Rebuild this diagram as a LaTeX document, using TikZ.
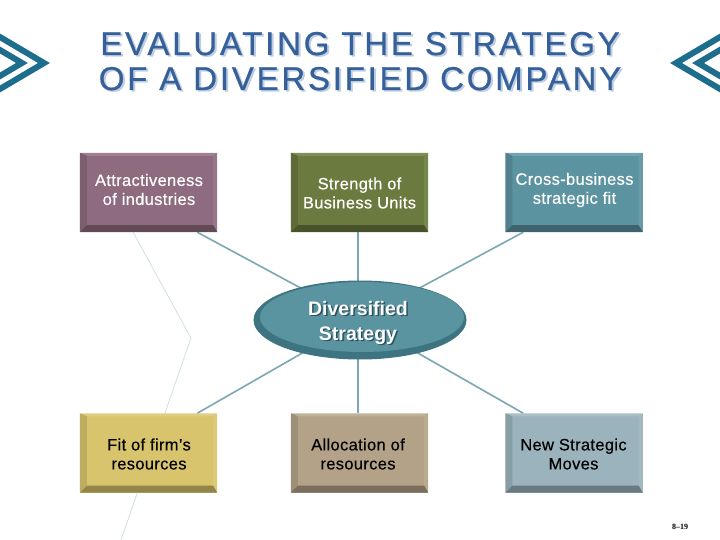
\documentclass[tikz,border=0pt]{standalone}
\usepackage{fontspec}
\setmainfont{Liberation Sans}
\newfontfamily\serifpn{Liberation Serif}
\usetikzlibrary{shapes.geometric,backgrounds,calc}
\definecolor{titleC}{HTML}{35609A}
\definecolor{titleSh}{HTML}{BFCDE0}
\definecolor{chevC}{HTML}{1D6E8D}
\definecolor{cA}{HTML}{8E6B7F}
\definecolor{cB}{HTML}{6B7A3F}
\definecolor{cC}{HTML}{5C93A0}
\definecolor{cD}{HTML}{D8C46C}
\definecolor{cE}{HTML}{B3A287}
\definecolor{cF}{HTML}{9BB3BC}
\definecolor{ellRim}{HTML}{3E7482}
\definecolor{ellFace}{HTML}{5A94A1}
\definecolor{connC}{HTML}{7CA7B3}
\definecolor{faintC}{HTML}{CFE0E6}
\newcommand{\bvl}[2]{%
  \fill[#2!85!white] (#1.north west) -- (#1.north east) -- ([shift={(-4,3)}]#1.north east) -- ([shift={(7,3)}]#1.north west) -- cycle;
  \fill[#2!88!black] (#1.south west) -- (#1.north west) -- ([shift={(7,3)}]#1.north west) -- ([shift={(7,-7)}]#1.south west) -- cycle;
  \fill[#2!92!white] (#1.north east) -- (#1.south east) -- ([shift={(-4,-7)}]#1.south east) -- ([shift={(-4,3)}]#1.north east) -- cycle;
  \fill[#2!68!black] (#1.south west) -- (#1.south east) -- ([shift={(-4,-7)}]#1.south east) -- ([shift={(7,-7)}]#1.south west) -- cycle;
}
\begin{document}
\begin{tikzpicture}[x=1pt,y=-1pt,
  titletxt/.style={anchor=base, inner sep=0, font=\fontsize{33}{36}\selectfont\addfontfeatures{LetterSpace=8.4,FakeBold=0.6}},
  boxnode/.style={draw=none, inner sep=0, minimum width=137pt, minimum height=79pt},
  btxt/.style={align=center, inner sep=0, font=\fontsize{16.5}{19}\selectfont\addfontfeatures{LetterSpace=2,FakeBold=0.35}},
  conn/.style={draw=connC, line width=1.6pt},
  chev/.style={draw=chevC, line width=6pt, miter limit=20}]
\useasboundingbox (0,0) rectangle (720,540);
\begin{pgfonlayer}{background}
  \fill[white] (0,0) rectangle (720,540);
\end{pgfonlayer}

% chevrons
\begin{scope}
\clip (0,0) rectangle (720,540);
\draw[chev] (-6,33.5) -- (44,63) -- (-6,92.5);
\draw[chev] (-6,46.5) -- (22,63) -- (-6,79.5);
\draw[chev] (726,33.5) -- (676,63) -- (726,92.5);
\draw[chev] (726,46.5) -- (698,63) -- (726,79.5);
\end{scope}

% title
\node[titletxt, text=titleSh] (t1s) at (362,56.5) {EVALUATING THE STRATEGY};
\node[titletxt, text=titleC] (t1) at (360,55) {EVALUATING THE STRATEGY};
\node[titletxt, text=titleSh] (t2s) at (362,91.5) {OF A DIVERSIFIED COMPANY};
\node[titletxt, text=titleC] (t2) at (360,90) {OF A DIVERSIFIED COMPANY};

% boxes
\node[boxnode, fill=cA] (b1) at (148.5,192.5) {};
\node[boxnode, fill=cB] (b2) at (359.5,192.5) {};
\node[boxnode, fill=cC] (b3) at (574,192.5) {};
\node[boxnode, fill=cD] (b4) at (148.5,453) {};
\node[boxnode, fill=cE] (b5) at (359.5,453) {};
\node[boxnode, fill=cF] (b6) at (574,453) {};
\bvl{b1}{cA}\bvl{b2}{cB}\bvl{b3}{cC}\bvl{b4}{cD}\bvl{b5}{cE}\bvl{b6}{cF}

\node[btxt, text=white] (l1) at (149,189.5) {Attractiveness\\of industries};
\node[btxt, text=white] (l2) at (359.5,193) {Strength of\\Business Units};
\node[btxt, text=white] (l3) at (574.5,190) {Cross-business\\strategic fit};
\node[btxt, text=black] (l4) at (149,454) {Fit of firm’s\\resources};
\node[btxt, text=black] (l5) at (358,454) {Allocation of\\resources};
\node[btxt, text=black] (l6) at (573.5,454) {New Strategic\\Moves};

% ellipse
\node[ellipse, inner sep=0, minimum width=213pt, minimum height=79pt, fill=ellRim] (e) at (360,320) {};
\node[ellipse, inner sep=0, minimum width=204pt, minimum height=70pt, fill=ellFace] (ef) at (362,317) {};
\node[align=center, inner sep=0, text=ellRim!70!black, font=\fontsize{19.5}{25}\selectfont\bfseries] (ets) at (359.5,324.5) {Diversified\\Strategy};
\node[align=center, inner sep=0, text=white, font=\fontsize{19.5}{25}\selectfont\bfseries] (et) at (358,323) {Diversified\\Strategy};

% connectors
\coordinate (p1) at ([xshift=-20pt]b1.south east);
\coordinate (p3) at ([xshift=18pt]b3.south west);
\coordinate (p4) at ([xshift=-20pt]b4.north east);
\coordinate (p6) at ([xshift=18pt]b6.north west);
\coordinate (p2) at ([xshift=-1.5pt]b2.south);
\coordinate (p5) at ([xshift=-1.5pt]b5.north);
\begin{pgfonlayer}{background}
  \draw[faintC, line width=0.8pt] (133,232) -- (191,338) -- (121,540);
  \draw[conn] (p1) -- (e.center);
  \draw[conn] (p3) -- (e.center);
  \draw[conn] (p4) -- (e.center);
  \draw[conn] (p6) -- (e.center);
  \draw[conn] (p2) -- (p2 |- e.center);
  \draw[conn] (p5) -- (p5 |- e.center);
\end{pgfonlayer}

% page number
\node[inner sep=0, font=\serifpn\bfseries\fontsize{8}{9}\selectfont] (pn) at (680,527) {8–19};
\end{tikzpicture}
\end{document}
